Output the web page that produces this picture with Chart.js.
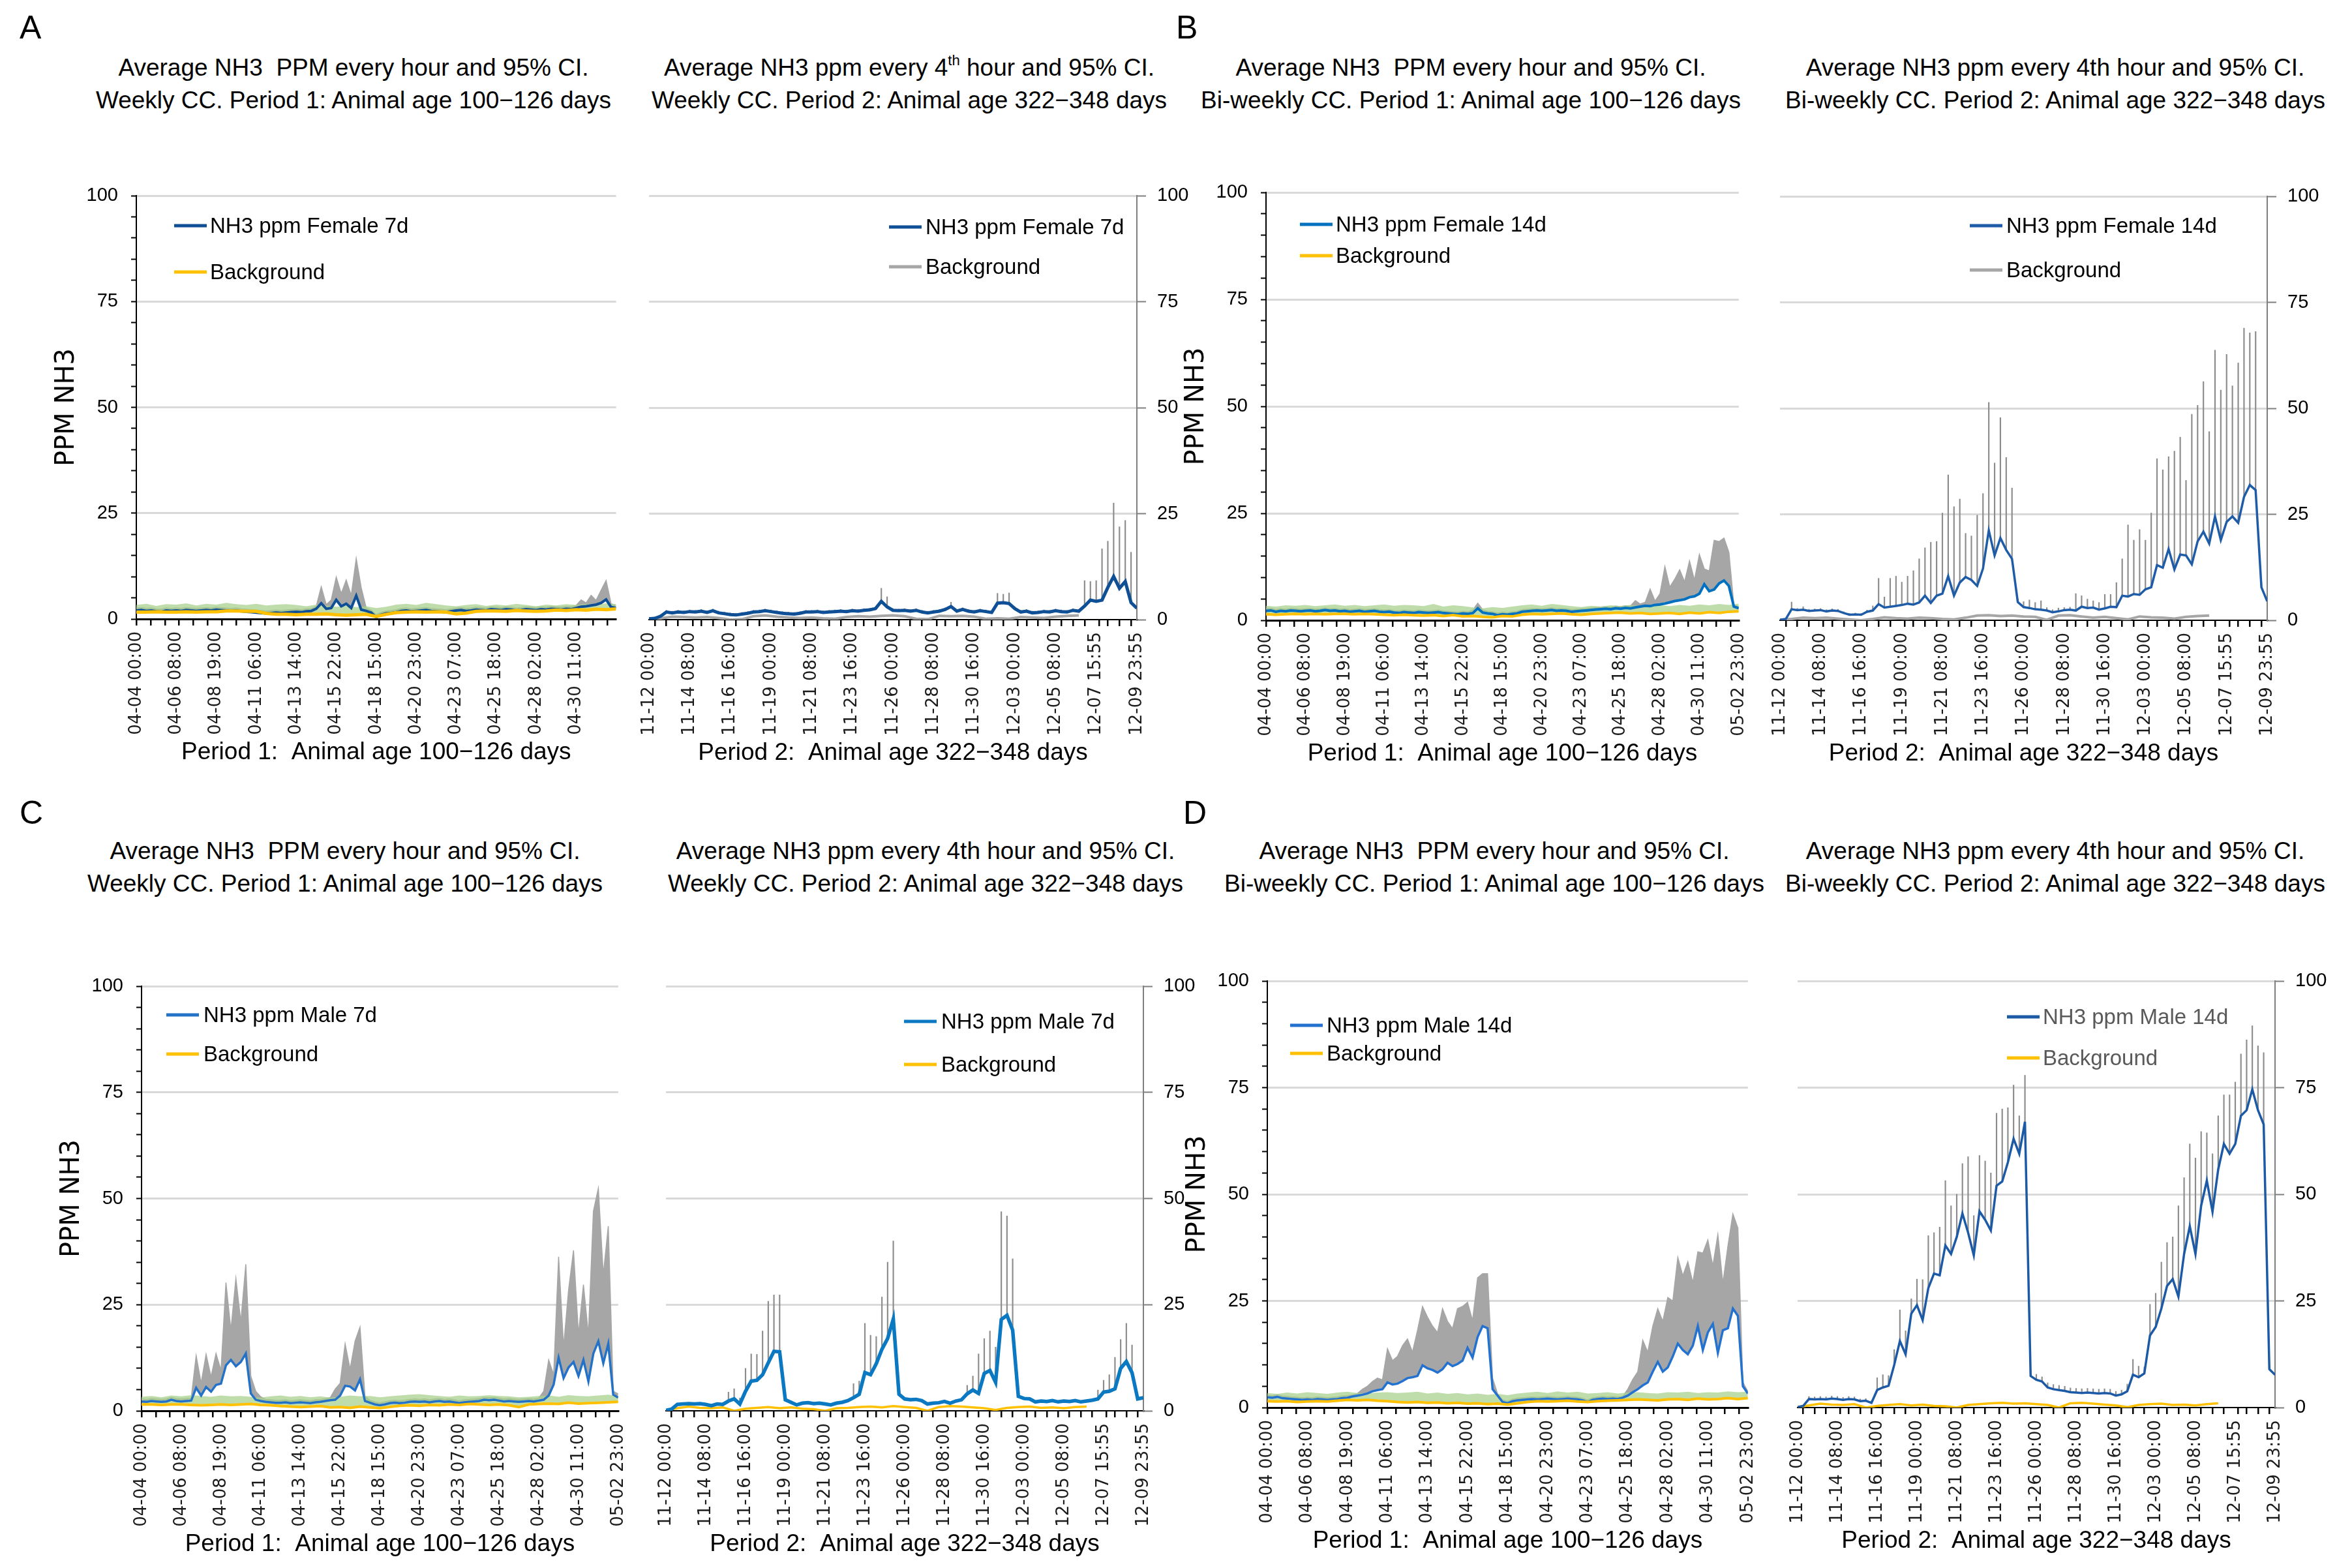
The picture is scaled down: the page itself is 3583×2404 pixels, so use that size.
<!DOCTYPE html>
<html>
<head>
<meta charset="utf-8">
<title>NH3 ppm, periods 1 and 2</title>
<script src="https://cdn.jsdelivr.net/npm/chart.js@4.4.1/dist/chart.umd.min.js"></script>
<style>
  html, body { margin: 0; padding: 0; background: #fff; }
  #page { position: relative; width: 3583px; height: 2404px; overflow: hidden; background: #fff;
          font-family: 'Liberation Sans', Arial, sans-serif; color: #000; }
  #page canvas { position: absolute; }
  .letter { position: absolute; font-size: 50px; line-height: 50px; }
  .ttl { position: absolute; transform: translateX(-50%); white-space: pre; text-align: center;
         font-size: 37px; line-height: 50px; }
  .ttl sup { font-size: 22px; line-height: 0; vertical-align: 16px; }
</style>
</head>
<body>
<div id="page">
  <div class="letter" style="left:30px;top:17px">A</div>
  <div class="letter" style="left:1803px;top:17px">B</div>
  <div class="letter" style="left:30px;top:1221px">C</div>
  <div class="letter" style="left:1814px;top:1221px">D</div>

  <div class="ttl" style="left:542px;top:79px">Average NH3  PPM every hour and 95% CI.
Weekly CC. Period 1: Animal age 100−126 days</div>
  <div class="ttl" style="left:1394px;top:79px">Average NH3 ppm every 4<sup>th</sup> hour and 95% CI.
Weekly CC. Period 2: Animal age 322−348 days</div>
  <div class="ttl" style="left:2255px;top:79px">Average NH3  PPM every hour and 95% CI.
Bi-weekly CC. Period 1: Animal age 100−126 days</div>
  <div class="ttl" style="left:3151px;top:79px">Average NH3 ppm every 4th hour and 95% CI.
Bi-weekly CC. Period 2: Animal age 322−348 days</div>
  <div class="ttl" style="left:529px;top:1280px">Average NH3  PPM every hour and 95% CI.
Weekly CC. Period 1: Animal age 100−126 days</div>
  <div class="ttl" style="left:1419px;top:1280px">Average NH3 ppm every 4th hour and 95% CI.
Weekly CC. Period 2: Animal age 322−348 days</div>
  <div class="ttl" style="left:2291px;top:1280px">Average NH3  PPM every hour and 95% CI.
Bi-weekly CC. Period 1: Animal age 100−126 days</div>
  <div class="ttl" style="left:3151px;top:1280px">Average NH3 ppm every 4th hour and 95% CI.
Bi-weekly CC. Period 2: Animal age 322−348 days</div>
</div>
<script>
// tick labels (category axis of the original: period 1 hourly, period 2 every 4th hour)
const P1_TICK_LABELS = ['04-04 00:00', '04-06 08:00', '04-08 19:00', '04-11 06:00', '04-13 14:00', '04-15 22:00',
  '04-18 15:00', '04-20 23:00', '04-23 07:00', '04-25 18:00', '04-28 02:00', '04-30 11:00', '05-02 23:00'];
const P2_TICK_LABELS = ['11-12 00:00', '11-14 08:00', '11-16 16:00', '11-19 00:00', '11-21 08:00', '11-23 16:00',
  '11-26 00:00', '11-28 08:00', '11-30 16:00', '12-03 00:00', '12-05 08:00', '12-07 15:55', '12-09 23:55'];

// sampling of the series, in categories
const P1_STEP = 7, P1_BG_STEP = 14;     // period 1: 672 categories
const P2_STEP = 2, P2_BG_STEP = 4;      // period 2: 168 categories

// ---- A: female, weekly CC ----
const A1_MEAN = [2.0,2.1,1.9,2.0,1.8,1.7,2.0,1.9, 2.0,1.9,2.1,2.0,1.9,2.0,2.1,2.0, 2.2,2.1,2.0,1.9,2.0,1.8,1.7,1.6,
  1.5,1.4,1.3,1.4,1.5,1.4,1.5,1.6, 1.7,1.6,1.8,1.9,2.4,3.7,2.4,2.6, 4.5,3.0,3.6,2.6,5.5,2.2,1.9,1.5,
  0.4,1.0,1.3,1.4,1.6,1.9,2.0,1.8, 1.9,2.0,2.1,1.9,1.8,1.7,1.6,1.8, 2.0,2.1,1.9,2.0,2.2,2.1,2.0,2.3,
  2.2,2.1,2.3,2.2,2.0,2.1,2.3,2.2, 2.1,2.3,2.2,2.4,2.3,2.2,2.4,2.3, 2.6,2.9,3.0,3.2,3.4,3.8,4.6,2.8,2.6];
const A1_UPPER = [2.6,2.7,2.5,2.6,2.4,2.3,2.6,2.5, 2.6,2.5,2.7,2.6,2.5,2.6,2.7,2.6, 2.8,2.7,2.6,2.5,2.6,2.4,2.3,2.2,
  2.1,2.0,1.9,2.0,2.1,2.0,2.1,2.2, 2.3,2.2,2.4,2.5,3.0,7.6,3.4,4.5, 9.9,6.0,9.2,5.6,14.3,7.4,2.6,2.1,
  1.0,1.6,1.9,2.0,2.2,2.5,2.6,2.4, 2.5,2.6,2.7,2.5,2.4,2.3,2.2,2.4, 2.6,2.7,2.5,2.6,2.8,2.7,2.6,2.9,
  2.8,2.7,2.9,2.8,2.6,2.7,2.9,2.8, 2.7,2.9,2.8,3.0,2.9,2.8,3.0,2.9, 3.2,4.5,3.8,5.6,4.4,6.8,9.1,3.6,3.2];
const A1_BG = [1.6,1.6,1.7,1.6,1.6,1.7,1.6,1.7,1.7,1.9, 1.9,1.8,1.8,1.3,1.1,1.1,1.0,1.1,1.1,1.2,
  1.0,0.9,1.0,1.1,0.6,1.1,1.5,1.6,1.7,1.6, 1.7,1.6,1.2,1.4,1.8,1.9,1.9,1.8,2.0,1.9, 1.8,1.9,2.1,2.0,2.2,2.1,2.3,2.2,2.4];
const A1_BG_HIGH = [3.3,3.6,3.1,3.5,3.4,3.7,3.2,3.6,3.4,3.8, 3.5,3.3,3.6,3.2,3.4,3.5,3.3,3.0,3.4,3.2,
  2.9,3.1,2.8,3.0,2.6,2.9,3.4,3.6,3.3,3.8, 3.5,3.2,3.0,3.3,3.5,3.1,3.4,3.2,3.6,3.3, 3.0,3.4,3.2,3.5,3.3,3.6,3.4,3.7,3.5];
const A2_MEAN = [0.2,0.3,0.8,1.8,1.6,1.8,1.7,1.9,1.8,2.0, 1.7,2.1,1.6,1.4,1.2,1.1,1.3,1.5,1.8,1.9,
  2.1,1.9,1.7,1.5,1.4,1.3,1.5,1.8,1.8,1.9, 1.7,1.8,1.9,2.0,1.9,2.1,2.0,2.2,2.3,2.6,
  4.3,3.0,2.2,2.1,2.2,2.0,2.2,1.8,1.6,1.8, 2.0,2.4,3.1,2.0,2.4,2.0,1.8,2.1,1.9,1.7,
  3.9,4.0,3.8,2.6,1.8,2.0,1.6,1.7,1.9,1.8, 2.1,1.9,1.8,2.2,2.0,3.2,4.6,4.3,4.6,7.6, 10.2,7.4,9.0,4.0,2.7];
const A2_UPPER = [0.4,0.5,1.2,2.2,2.0,2.2,2.1,2.3,2.2,2.4, 2.1,2.5,2.0,1.8,1.6,1.5,1.7,1.9,2.2,2.3,
  2.5,2.3,2.1,1.9,1.8,1.7,1.9,2.2,2.2,2.3, 2.1,2.2,2.3,2.4,2.3,2.5,2.4,2.6,2.7,3.0,
  7.4,5.4,2.6,2.5,2.6,2.4,2.6,2.2,2.0,2.2, 2.4,2.8,4.1,2.4,2.8,2.4,2.2,2.5,2.3,2.1,
  6.2,6.0,6.3,3.0,2.2,2.4,2.0,2.1,2.3,2.2, 2.5,2.3,2.2,2.6,2.4,9.2,9.0,9.2,16.7,18.5, 27.5,21.9,23.4,15.9,3.0];
const A2_BG = [0.1,0.3,0.7,0.6,0.5,0.6,0.4,0.0,0.1,0.8, 1.0,0.7,0.5,0.4,0.5,0.3,0.2,0.6,0.8,0.7,
  0.9,1.0,0.8,0.2,0.1,0.9,0.8,0.9,0.7,0.2, 0.3,0.2,0.6,0.5,0.4,0.7,0.9,1.0, null,null,null,null,null];

// ---- B: female, bi-weekly CC ----
const B1_MEAN = [2.2,2.3,2.0,2.2,2.1,2.3,2.2,2.1, 2.2,2.3,2.1,2.2,2.4,2.2,2.3,2.1, 2.2,2.0,2.1,2.2,2.0,2.1,2.2,2.0,
  1.9,2.0,1.8,1.7,1.9,1.8,1.7,1.9, 1.8,1.7,1.8,1.9,1.7,1.6,1.5,1.4, 1.6,1.5,1.7,2.8,1.8,1.6,1.5,1.2,
  1.4,1.3,1.5,1.6,2.0,2.1,2.2,2.3, 2.2,2.3,2.4,2.2,2.3,2.2,2.0,2.1, 2.2,2.3,2.4,2.5,2.6,2.7,2.6,2.8,
  2.7,2.9,2.8,3.0,3.2,3.4,3.3,3.6, 3.7,3.9,4.2,4.5,4.7,4.9,5.4,5.6, 6.2,8.4,6.8,7.2,8.6,9.3,8.0,3.2,2.8];
const B1_UPPER = [2.7,2.8,2.5,2.7,2.6,2.8,2.7,2.6, 2.7,2.8,2.6,2.7,2.9,2.7,2.8,2.6, 2.7,2.5,2.6,2.7,2.5,2.6,2.7,2.5,
  2.4,2.5,2.3,2.2,2.4,2.3,2.2,2.4, 2.3,2.2,2.3,2.4,2.2,2.1,2.0,1.9, 2.1,2.0,2.4,4.0,2.5,2.1,2.0,1.7,
  1.9,1.8,2.0,2.1,2.5,2.6,2.7,2.8, 2.7,2.8,2.9,2.7,2.8,2.7,2.5,2.6, 2.7,2.8,2.9,3.0,3.1,3.2,3.1,3.3,
  3.2,3.4,3.3,4.6,3.8,4.2,7.3,4.5, 6.2,12.6,7.8,9.6,11.8,9.0,13.9,9.4, 15.4,12.0,11.5,18.7,18.4,19.2,15.9,3.6,3.2];
const B1_BG = [1.4,1.3,1.4,1.5,1.4,1.5,1.4,1.5,1.5,1.4, 1.5,1.4,1.3,1.2,1.3,1.2,1.1,1.2,1.0,1.2,
  0.9,1.0,0.8,0.7,1.0,0.9,1.3,1.5,1.4,1.5, 1.6,1.4,1.3,1.5,1.6,1.7,1.8,1.6,1.7,1.5, 1.6,1.7,1.5,1.8,1.6,1.9,1.7,2.0,2.1];
const B1_BG_HIGH = [3.4,3.2,3.5,3.4,3.6,3.3,3.5,3.7,3.4,3.6, 3.3,3.5,3.7,3.4,3.6,3.5,3.3,3.8,3.2,3.5,
  3.3,3.0,2.8,3.1,2.9,3.2,3.5,3.7,3.4,3.8, 3.6,3.3,3.1,3.4,3.2,3.5,3.3,3.6,3.4,3.2, 3.5,3.3,3.6,3.4,3.7,3.5,3.8,3.6,3.9];
const B2_MEAN = [0.1,0.3,2.6,2.4,2.5,2.2,2.3,2.4,2.1,2.3, 2.2,1.7,1.3,1.4,1.3,2.0,2.3,3.8,3.0,3.2,
  3.4,3.6,3.9,3.7,4.2,5.8,4.1,5.8,6.3,10.4, 5.8,8.9,10.2,9.5,8.1,12.2,21.2,15.3,19.4,16.6,
  14.5,4.3,3.1,2.9,2.6,2.5,2.3,1.9,2.1,2.4, 2.5,2.3,3.2,2.9,3.0,2.5,2.8,3.2,3.1,5.8,
  5.6,6.2,6.0,7.3,7.8,13.0,12.4,16.8,12.0,15.5, 15.3,13.2,18.6,20.9,18.1,24.5,18.9,23.2,24.5,23.0, 29.1,31.9,30.7,7.8,4.5];
const B2_UPPER = [0.1,0.3,4.3,2.8,3.2,2.6,2.7,2.8,2.5,2.7, 2.6,2.0,1.6,1.7,1.6,2.4,3.4,9.9,5.5,9.9,
  10.4,9.0,10.4,11.7,14.5,17.1,18.4,18.6,25.3,34.3, 26.8,28.6,20.5,19.9,24.8,29.9,51.4,37.1,47.8,38.4,
  31.2,5.0,4.4,4.8,4.2,4.6,3.0,2.5,2.9,3.0, 3.1,6.3,5.8,5.0,4.6,4.2,6.1,6.1,8.9,14.5,
  22.5,18.9,21.4,18.9,25.3,38.1,35.5,38.6,39.9,43.2, 33.0,48.6,50.7,56.3,44.5,63.7,54.3,62.7,55.3,60.7, 68.9,67.8,68.1,8.9,7.3];
const B2_BG = [0.1,0.3,0.6,0.5,0.6,0.4,0.2,0.0,0.3,0.7, 0.5,0.4,0.6,0.5,0.3,0.2,0.6,1.1,1.2,1.0,
  1.1,0.9,0.8,0.1,1.1,1.2,0.9,0.6,0.8,0.5, 0.2,0.9,0.7,0.6,0.4,0.8,1.0,1.1, null,null,null,null,null];

// ---- C: male, weekly CC ----
const C1_MEAN = [2.2,2.1,2.3,2.2,2.1,2.2,2.6,2.3, 2.2,2.3,2.4,5.4,3.6,5.6,4.5,6.1, 6.4,10.7,12.0,10.5,11.5,13.5,4.1,2.6,
  2.3,2.1,2.0,1.9,1.9,2.0,1.8,1.9, 2.0,1.9,1.8,2.0,2.1,2.3,2.5,2.6, 3.6,5.9,5.7,4.8,7.4,2.3,1.9,1.5,
  1.3,1.5,1.8,1.9,1.8,1.9,2.1,2.2, 2.1,2.2,2.0,2.2,2.3,2.1,2.2,2.0, 1.8,2.0,2.1,2.2,2.3,2.6,2.5,2.6,
  2.4,2.2,2.3,2.2,2.1,2.2,2.3,2.2, 2.4,2.6,3.6,6.2,12.5,7.7,10.2,11.5, 8.2,12.0,6.9,13.5,16.4,11.2,15.8,3.8,3.1];
const C1_UPPER = [2.8,2.7,2.9,2.8,2.7,2.8,3.2,2.9, 2.8,2.9,3.0,13.0,6.5,13.3,8.0,13.5, 9.5,30.2,19.0,31.2,21.0,34.5,8.2,4.6,
  3.3,2.7,2.6,2.5,2.5,2.6,2.4,2.5, 2.6,2.5,2.4,2.6,2.7,2.9,3.1,5.1, 6.5,15.8,9.8,16.4,19.7,3.5,2.5,2.1,
  1.9,2.1,2.4,2.5,2.4,2.5,2.7,2.8, 2.7,2.8,2.6,2.8,2.9,2.7,2.8,2.6, 2.4,2.6,2.7,2.8,2.9,3.2,3.1,3.2,
  3.0,2.8,2.9,2.8,2.7,2.8,2.9,2.8, 3.0,4.6,12.0,8.5,36.3,15.0,28.4,37.8, 18.0,29.7,17.9,47.0,52.4,32.0,43.5,4.6,4.0];
const C1_BG = [1.5,1.5,1.4,1.5,1.5,1.4,1.3,1.4,1.5,1.4, 1.5,1.6,1.4,1.3,1.1,1.0,0.9,1.0,1.1,0.8,
  0.9,0.7,1.0,0.8,0.6,0.9,1.2,1.3,1.2,1.4, 1.3,1.5,1.4,1.6,1.5,1.4,1.5,1.3,0.9,1.5, 1.6,1.7,1.6,1.9,1.7,1.8,1.9,2.0,2.1];
const C1_BG_HIGH = [3.3,3.5,3.2,3.6,3.4,3.7,3.5,3.3,3.6,3.4, 3.5,3.3,3.1,3.4,3.6,3.3,3.5,3.2,3.4,3.1,
  3.3,3.6,3.4,3.5,3.2,3.4,3.6,3.8,3.9,3.7, 3.5,3.3,3.6,3.4,3.5,3.7,3.5,3.4,3.2,3.3, 3.5,3.6,3.3,3.7,3.5,3.4,3.6,3.8,3.5];
const C2_MEAN = [0.1,0.4,1.5,1.6,1.7,1.6,1.7,1.5,1.2,1.6, 1.5,2.3,2.8,1.6,4.6,7.0,7.2,8.5,11.3,14.0,
  13.9,2.6,2.0,1.4,1.8,1.9,1.7,1.8,1.6,1.4, 1.8,2.0,2.4,3.1,3.9,9.0,8.5,11.1,14.5,17.0,
  21.6,3.9,2.8,2.6,2.7,2.4,1.6,1.8,1.9,2.2, 1.8,2.3,2.6,4.0,4.9,4.1,8.8,9.5,6.7,21.5,
  22.5,19.0,3.4,2.9,2.8,2.1,2.3,2.2,2.4,2.1, 2.3,2.2,2.4,2.1,2.3,2.5,2.8,4.4,4.6,5.2, 10.0,11.6,9.0,2.8,3.1];
const C2_UPPER = [0.1,0.4,1.8,1.9,2.0,1.9,2.0,1.8,1.5,1.9, 1.8,4.4,5.2,3.0,10.0,13.4,13.3,18.8,25.8,27.3,
  27.3,3.0,2.3,1.7,2.1,2.2,2.0,2.1,1.9,1.7, 2.1,2.3,2.7,6.4,7.0,20.6,17.8,17.5,26.8,35.0,
  40.0,4.5,3.1,2.9,3.0,2.7,1.9,2.1,2.2,2.5, 2.1,2.6,2.9,6.0,8.2,13.4,17.0,18.8,15.0,46.9,
  45.9,35.8,4.5,3.2,3.1,2.4,2.6,2.5,2.7,2.4, 2.6,2.5,2.7,2.4,2.6,2.8,4.9,7.2,8.5,12.6, 16.8,20.6,15.5,3.2,3.4];
const C2_BG = [0.1,0.6,1.0,0.7,0.6,0.8,0.0,0.5,0.7,0.9, 0.6,0.8,0.5,0.4,0.0,0.6,0.7,0.9,1.0,0.8,
  1.1,0.9,0.7,0.0,0.9,1.1,1.0,0.8,0.6,0.2, 0.7,0.9,1.0,0.7,0.8,0.6,0.9,1.0, null,null,null,null,null];

// ---- D: male, bi-weekly CC ----
const D1_MEAN = [2.4,2.3,2.5,2.2,2.1,2.0,1.9,1.8, 1.9,1.8,2.0,1.9,1.8,1.9,2.0,2.2, 2.3,2.6,2.8,3.0,3.3,3.8,4.1,4.3,
  5.9,5.4,5.6,6.2,6.9,7.1,7.4,9.9, 9.2,8.8,8.2,9.0,10.5,9.7,10.2,11.0, 14.0,11.7,16.5,19.1,18.6,4.3,2.8,1.3,
  1.0,1.5,1.7,1.8,1.9,2.0,1.9,2.0, 2.1,2.0,1.9,2.0,2.1,2.0,1.9,1.7, 1.3,1.8,2.0,2.1,2.0,2.1,2.0,2.3,
  2.8,3.6,4.3,5.2,5.9,8.4,10.7,8.4, 9.4,12.0,15.0,13.5,12.5,14.5,19.1,13.5, 17.6,19.6,12.8,18.1,18.6,23.2,21.5,5.0,3.3];
const D1_UPPER = [2.9,2.8,3.0,2.7,2.6,2.5,2.4,2.3, 2.4,2.3,2.5,2.4,2.3,2.4,2.5,2.7, 2.8,3.0,3.3,4.3,5.0,6.1,6.9,6.5,
  13.8,11.0,12.0,14.5,16.1,13.0,18.1,23.7, 21.2,19.1,17.6,23.2,20.2,18.5,23.2,23.7, 24.7,20.4,30.4,31.4,31.4,6.9,3.2,1.8,
  1.5,2.0,2.2,2.3,2.4,2.5,2.4,2.5, 2.6,2.5,2.4,2.5,2.6,2.5,2.4,2.2, 1.8,2.3,2.5,2.6,2.5,2.6,2.5,2.6,
  4.3,6.6,8.4,15.8,13.0,19.1,23.2,20.2, 25.8,25.0,35.2,30.9,34.2,29.3,36.5,36.2, 39.3,33.2,40.6,29.1,37.8,45.4,42.1,5.9,3.8];
const D1_BG = [1.5,1.4,1.5,1.3,1.4,1.5,1.4,1.6,1.8,1.7, 1.8,1.6,1.5,1.3,1.2,1.3,1.1,1.2,1.0,1.1,
  0.9,1.0,0.8,0.9,0.7,1.0,1.3,1.5,1.4,1.5, 1.6,1.4,1.3,1.5,1.6,1.7,1.8,1.9,1.8,1.7, 1.9,2.0,1.8,2.1,1.9,2.0,2.2,2.0,2.2];
const D1_BG_HIGH = [3.4,3.2,3.5,3.3,3.6,3.4,3.2,3.5,3.7,3.4, 3.3,3.5,3.6,3.4,3.5,3.7,3.3,3.5,3.2,3.4,
  3.1,3.3,3.0,3.2,2.9,3.3,3.5,3.7,3.4,3.8, 3.5,3.7,3.3,3.4,3.6,3.3,3.5,3.6,3.4,3.3, 3.6,3.5,3.7,3.4,3.6,3.5,3.8,3.6,3.7];
const D2_MEAN = [0.1,0.4,2.0,1.9,2.0,1.9,2.1,2.0,1.8,2.0, 1.9,1.5,1.6,1.1,4.1,4.7,5.1,10.0,15.6,12.5,
  22.0,24.0,20.5,28.0,31.4,31.0,38.0,36.0,40.0,45.5, 41.0,35.7,46.0,44.0,41.5,52.0,53.0,57.5,63.0,59.5,
  67.0,7.4,6.5,6.1,4.7,4.3,4.1,3.9,3.6,3.5, 3.4,3.5,3.4,3.3,3.4,3.3,2.8,3.1,3.8,7.7,
  7.1,8.0,16.9,18.9,23.2,28.5,30.1,26.0,36.0,42.5, 36.0,47.3,53.2,45.9,55.8,61.8,59.5,61.8,68.4,69.7, 74.6,69.7,66.4,9.0,7.7];
const D2_UPPER = [0.1,0.4,2.6,2.5,2.6,2.5,2.7,2.6,2.4,2.6, 2.5,2.0,2.1,1.6,7.0,7.7,7.5,13.6,22.9,18.0,
  25.5,30.1,30.0,40.3,41.0,42.3,53.2,47.3,50.0,57.2, 58.8,45.0,59.1,57.8,55.0,69.0,70.0,70.3,75.6,68.4,
  77.9,8.5,7.8,7.2,5.8,5.4,5.2,5.0,4.6,4.5, 4.4,4.5,4.4,4.3,4.4,4.3,3.8,4.1,5.5,11.3,
  9.7,9.5,24.2,26.8,34.1,38.7,40.0,47.3,53.9,61.8, 58.5,64.7,64.4,59.5,68.4,73.3,73.3,76.3,82.9,86.2, 89.5,84.8,83.2,10.0,8.2];
const D2_BG = [0.1,0.5,0.9,0.7,0.6,0.8,0.0,0.4,0.6,0.8, 0.5,0.7,0.4,0.3,0.0,0.6,0.8,1.0,1.1,0.9,
  1.0,0.8,0.6,0.0,1.0,1.1,0.9,0.7,0.5,0.1, 0.6,0.8,0.9,0.6,0.7,0.5,0.8,1.0, null,null,null,null,null];

const FONT_SANS = "'Liberation Sans', Arial, sans-serif";
const FONT_WIDE = "'DejaVu Sans', Verdana, sans-serif";
const YELLOW = '#ffc000', GREY = '#a6a6a6', GRID = '#d9d9d9', CLEAR = 'rgba(0,0,0,0)';
const X_AXIS_H = 227;

const PERIODS = {
  1: { max: 672, labelEvery: 56, markEvery: 20, labels: P1_TICK_LABELS, title: 'Period 1:  Animal age 100\u2212126 days' },
  2: { max: 168, labelEvery: 14, markEvery: 4, labels: P2_TICK_LABELS, title: 'Period 2:  Animal age 322\u2212348 days' },
};

const PANELS = [
  { period: 1, plot: [209, 952, 300, 949], mean: A1_MEAN, upper: A1_UPPER, bg: A1_BG, bgHigh: A1_BG_HIGH, nLabels: 12,
    label: 'NH3 ppm Female 7d', color: '#0f4f96', width: 4, bgColor: YELLOW, bgWidth: 5,
    legend: { x: 58, gap: 55, y: [46, 117] } },
  { period: 2, plot: [995, 1743, 300, 950], mean: A2_MEAN, upper: A2_UPPER, bg: A2_BG,
    label: 'NH3 ppm Female 7d', color: '#0f4f96', width: 5, bgColor: GREY, bgWidth: 4,
    legend: { x: -380, gap: 56, y: [48, 109], fromRight: true } },
  { period: 1, plot: [1941, 2686, 295, 951], mean: B1_MEAN, upper: B1_UPPER, bg: B1_BG, bgHigh: B1_BG_HIGH,
    label: 'NH3 ppm Female 14d', color: '#0070c0', width: 4, bgColor: YELLOW, bgWidth: 4,
    legend: { x: 52, gap: 55, y: [49, 97] } },
  { period: 2, plot: [2729, 3476, 301, 951], mean: B2_MEAN, upper: B2_UPPER, bg: B2_BG,
    label: 'NH3 ppm Female 14d', color: '#1f5ca8', width: 3.5, bgColor: GREY, bgWidth: 4,
    legend: { x: -456, gap: 56, y: [45, 113], fromRight: true } },
  { period: 1, plot: [217, 968, 1512, 2163], mean: C1_MEAN, upper: C1_UPPER, bg: C1_BG, bgHigh: C1_BG_HIGH,
    label: 'NH3 ppm Male 7d', color: '#2472c8', width: 3.5, bgColor: YELLOW, bgWidth: 4,
    legend: { x: 38, gap: 57, y: [44, 104] } },
  { period: 2, plot: [1021, 1753, 1512, 2163], mean: C2_MEAN, upper: C2_UPPER, bg: C2_BG,
    label: 'NH3 ppm Male 7d', color: '#0b78c2', width: 5.5, bgColor: YELLOW, bgWidth: 3.5,
    legend: { x: -367, gap: 57, y: [54, 120], fromRight: true } },
  { period: 1, plot: [1943, 2700, 1504, 2158], mean: D1_MEAN, upper: D1_UPPER, bg: D1_BG, bgHigh: D1_BG_HIGH,
    label: 'NH3 ppm Male 14d', color: '#2472d0', width: 3.5, bgColor: YELLOW, bgWidth: 4,
    legend: { x: 35, gap: 56, y: [68, 111] } },
  { period: 2, plot: [2756, 3488, 1504, 2158], mean: D2_MEAN, upper: D2_UPPER, bg: D2_BG,
    label: 'NH3 ppm Male 14d', color: '#1d5aa6', width: 3.5, bgColor: YELLOW, bgWidth: 3.5,
    legend: { x: -411, gap: 55, y: [55, 118], fromRight: true, color: '#595959' } },
];

function pts(values, step) {
  return values.map((y, i) => ({ x: i * step, y }));
}

// legend drawn inside the plot area, as in the original
const insideLegend = {
  id: 'insideLegend',
  afterDraw(chart, _args, opts) {
    const { ctx, chartArea } = chart;
    const x0 = opts.fromRight ? chartArea.right + opts.x : chartArea.left + opts.x;
    ctx.save();
    ctx.font = `33px ${FONT_SANS}`;
    ctx.textBaseline = 'middle';
    ctx.textAlign = 'left';
    [0, 1].forEach((dsIndex, n) => {
      const ds = chart.data.datasets[dsIndex];
      const y = chartArea.top + opts.y[n];
      ctx.strokeStyle = ds.borderColor;
      ctx.lineWidth = 5;
      ctx.beginPath();
      ctx.moveTo(x0, y);
      ctx.lineTo(x0 + 50, y);
      ctx.stroke();
      ctx.fillStyle = opts.color || '#000';
      ctx.fillText(ds.label, x0 + opts.gap, y + 2);
    });
    ctx.restore();
  },
};

function xAxis(p) {
  const per = PERIODS[p.period];
  const labels = per.labels.slice(0, p.nLabels || per.labels.length);
  return {
    type: 'linear', min: 0, max: per.max, offset: false,
    afterBuildTicks: s => {
      const vals = new Set();
      for (let v = 0; v <= per.max; v += per.markEvery) vals.add(v);
      labels.forEach((_, i) => vals.add(i * per.labelEvery));
      s.ticks = [...vals].sort((a, b) => a - b).map(v => ({ value: v }));
    },
    afterFit: s => { s.height = X_AXIS_H; },
    ticks: {
      autoSkip: false, maxRotation: 90, minRotation: 90, padding: 9, color: '#1a1a1a',
      font: { family: FONT_WIDE, size: 26 },
      callback: v => (v % per.labelEvery === 0 && v / per.labelEvery < labels.length) ? labels[v / per.labelEvery] : '',
    },
    grid: {
      drawOnChartArea: false, drawTicks: true, tickLength: 10, lineWidth: 2.5,
      tickColor: c => (c.tick && c.tick.value % per.markEvery === 0) ? '#000' : CLEAR,
    },
    border: { color: '#000', width: p.period === 1 ? 3 : 2 },
    title: { display: true, text: per.title, color: '#000', font: { family: FONT_SANS, size: 37 }, padding: 0 },
  };
}

function yAxis(p) {
  const left = p.period === 1;
  return {
    type: 'linear', min: 0, max: 100, position: left ? 'left' : 'right',
    afterBuildTicks: s => {
      const vals = [];
      for (let v = 0; v <= 100; v += left ? 5 : 25) vals.push({ value: v });
      s.ticks = vals;
    },
    afterFit: s => { s.width = left ? 130 : 100; },
    ticks: {
      autoSkip: false, padding: left ? 20 : 17, color: '#000',
      font: { family: FONT_SANS, size: 29 },
      callback: v => (v % 25 === 0 ? String(v) : ''),
    },
    grid: {
      color: c => (c.tick && c.tick.value > 0 && c.tick.value % 25 === 0) ? GRID : CLEAR,
      lineWidth: 3, tickWidth: 2, tickLength: left ? 8 : 14,
      tickColor: left ? '#000' : '#7f7f7f',
    },
    border: { color: left ? '#000' : '#7f7f7f', width: 2 },
    title: { display: left, text: 'PPM NH3', color: '#000', font: { family: FONT_WIDE, size: 40 }, padding: 0 },
  };
}

function datasets(p) {
  const meanStep = p.period === 1 ? P1_STEP : P2_STEP;
  const bgStep = p.period === 1 ? P1_BG_STEP : P2_BG_STEP;
  const sets = [
    { type: 'line', label: p.label, data: pts(p.mean, meanStep), borderColor: p.color, borderWidth: p.width,
      pointRadius: 0, fill: false, order: 2 },
    { type: 'line', label: 'Background', data: pts(p.bg, bgStep), borderColor: p.bgColor, borderWidth: p.bgWidth,
      pointRadius: 0, fill: false, order: p.period === 1 ? 1 : 3 },
  ];
  if (p.period === 1) {
    // 95% CI of the animals: grey area above the mean; background CI: green band above the background line
    sets.push({ type: 'line', label: '95% CI', data: pts(p.upper, meanStep), borderColor: GREY, backgroundColor: GREY,
      borderWidth: 1.5, pointRadius: 0, fill: 0, order: 4 });
    sets.push({ type: 'line', label: 'Background 95% CI', data: pts(p.bgHigh, bgStep), borderColor: CLEAR,
      backgroundColor: 'rgba(169,209,142,0.75)', borderWidth: 0, pointRadius: 0, fill: 1, order: 3 });
  } else {
    // every 4th hour: upper 95% CI as thin high-low lines above the mean
    sets.push({ type: 'bar', label: '95% CI', data: p.mean.map((m, k) => ({ x: k * meanStep, y: [m, p.upper[k]] })),
      backgroundColor: '#8c8c8c', barThickness: 1.5, order: 4 });
    sets[0].order = 1;
  }
  return sets;
}

const page = document.getElementById('page');
PANELS.forEach(p => {
  const [l, r, t, b] = p.plot;
  const left = p.period === 1;
  const yW = left ? 130 : 100;
  const pad = left ? { left: 10, right: 20, top: 40, bottom: 0 } : { left: 20, right: 10, top: 40, bottom: 0 };
  const cx = left ? l - yW - pad.left : l - pad.left;
  const cy = t - pad.top;
  const cw = (left ? r + pad.right : r + yW + pad.right) - cx;
  const ch = b + X_AXIS_H - cy;
  const canvas = document.createElement('canvas');
  canvas.width = cw;
  canvas.height = ch;
  canvas.style.left = cx + 'px';
  canvas.style.top = cy + 'px';
  canvas.style.width = cw + 'px';
  canvas.style.height = ch + 'px';
  page.appendChild(canvas);

  new Chart(canvas, {
    type: 'line',
    data: { datasets: datasets(p) },
    options: {
      responsive: false, animation: false, devicePixelRatio: 1,
      layout: { padding: pad },
      plugins: { legend: { display: false }, tooltip: { enabled: false }, insideLegend: p.legend },
      scales: { x: xAxis(p), y: yAxis(p) },
    },
    plugins: [insideLegend],
  });
});
</script>
</body>
</html>
